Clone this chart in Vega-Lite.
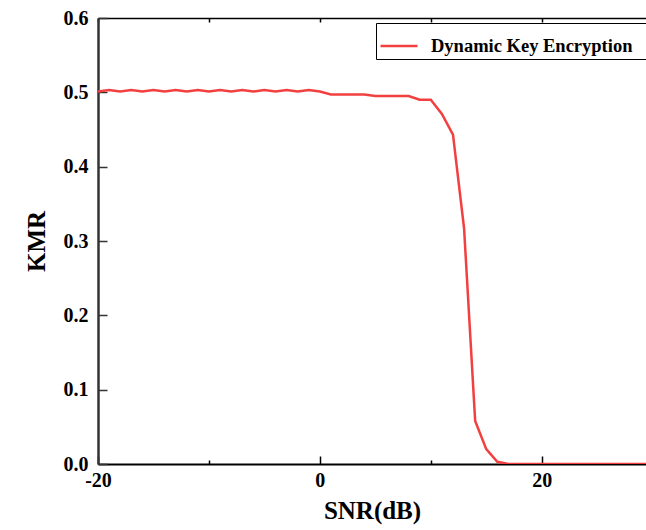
{
  "$schema": "https://vega.github.io/schema/vega-lite/v6.json",
  "width": 548,
  "height": 446,
  "autosize": {"type": "none"},
  "padding": {"left": 98, "top": 18, "right": 0, "bottom": 66},
  "background": "white",
  "config": {
    "view": {"stroke": null},
    "font": "Liberation Serif"
  },
  "data": {
    "values": [
      {"snr": -20, "kmr": 0.501, "series": "Dynamic Key Encryption"},
      {"snr": -19, "kmr": 0.503, "series": "Dynamic Key Encryption"},
      {"snr": -18, "kmr": 0.501, "series": "Dynamic Key Encryption"},
      {"snr": -17, "kmr": 0.503, "series": "Dynamic Key Encryption"},
      {"snr": -16, "kmr": 0.501, "series": "Dynamic Key Encryption"},
      {"snr": -15, "kmr": 0.503, "series": "Dynamic Key Encryption"},
      {"snr": -14, "kmr": 0.501, "series": "Dynamic Key Encryption"},
      {"snr": -13, "kmr": 0.503, "series": "Dynamic Key Encryption"},
      {"snr": -12, "kmr": 0.501, "series": "Dynamic Key Encryption"},
      {"snr": -11, "kmr": 0.503, "series": "Dynamic Key Encryption"},
      {"snr": -10, "kmr": 0.501, "series": "Dynamic Key Encryption"},
      {"snr": -9, "kmr": 0.503, "series": "Dynamic Key Encryption"},
      {"snr": -8, "kmr": 0.501, "series": "Dynamic Key Encryption"},
      {"snr": -7, "kmr": 0.503, "series": "Dynamic Key Encryption"},
      {"snr": -6, "kmr": 0.501, "series": "Dynamic Key Encryption"},
      {"snr": -5, "kmr": 0.503, "series": "Dynamic Key Encryption"},
      {"snr": -4, "kmr": 0.501, "series": "Dynamic Key Encryption"},
      {"snr": -3, "kmr": 0.503, "series": "Dynamic Key Encryption"},
      {"snr": -2, "kmr": 0.501, "series": "Dynamic Key Encryption"},
      {"snr": -1, "kmr": 0.503, "series": "Dynamic Key Encryption"},
      {"snr": 0, "kmr": 0.501, "series": "Dynamic Key Encryption"},
      {"snr": 1, "kmr": 0.497, "series": "Dynamic Key Encryption"},
      {"snr": 2, "kmr": 0.497, "series": "Dynamic Key Encryption"},
      {"snr": 3, "kmr": 0.497, "series": "Dynamic Key Encryption"},
      {"snr": 4, "kmr": 0.497, "series": "Dynamic Key Encryption"},
      {"snr": 5, "kmr": 0.495, "series": "Dynamic Key Encryption"},
      {"snr": 6, "kmr": 0.495, "series": "Dynamic Key Encryption"},
      {"snr": 7, "kmr": 0.495, "series": "Dynamic Key Encryption"},
      {"snr": 8, "kmr": 0.495, "series": "Dynamic Key Encryption"},
      {"snr": 9, "kmr": 0.49, "series": "Dynamic Key Encryption"},
      {"snr": 10, "kmr": 0.49, "series": "Dynamic Key Encryption"},
      {"snr": 11, "kmr": 0.471, "series": "Dynamic Key Encryption"},
      {"snr": 12, "kmr": 0.443, "series": "Dynamic Key Encryption"},
      {"snr": 13, "kmr": 0.317, "series": "Dynamic Key Encryption"},
      {"snr": 14, "kmr": 0.058, "series": "Dynamic Key Encryption"},
      {"snr": 15, "kmr": 0.02, "series": "Dynamic Key Encryption"},
      {"snr": 16, "kmr": 0.003, "series": "Dynamic Key Encryption"},
      {"snr": 17, "kmr": 0, "series": "Dynamic Key Encryption"},
      {"snr": 18, "kmr": 0, "series": "Dynamic Key Encryption"},
      {"snr": 19, "kmr": 0, "series": "Dynamic Key Encryption"},
      {"snr": 20, "kmr": 0, "series": "Dynamic Key Encryption"},
      {"snr": 21, "kmr": 0, "series": "Dynamic Key Encryption"},
      {"snr": 22, "kmr": 0, "series": "Dynamic Key Encryption"},
      {"snr": 23, "kmr": 0, "series": "Dynamic Key Encryption"},
      {"snr": 24, "kmr": 0, "series": "Dynamic Key Encryption"},
      {"snr": 25, "kmr": 0, "series": "Dynamic Key Encryption"},
      {"snr": 26, "kmr": 0, "series": "Dynamic Key Encryption"},
      {"snr": 27, "kmr": 0, "series": "Dynamic Key Encryption"},
      {"snr": 28, "kmr": 0, "series": "Dynamic Key Encryption"},
      {"snr": 29, "kmr": 0, "series": "Dynamic Key Encryption"},
      {"snr": 30, "kmr": 0, "series": "Dynamic Key Encryption"}
    ]
  },
  "layer": [
    {
      "mark": {"type": "line", "strokeWidth": 2.5, "clip": true},
      "encoding": {
        "x": {
          "field": "snr",
          "type": "quantitative",
          "scale": {"domain": [-20, 29.4], "nice": false, "zero": false},
          "axis": {
            "orient": "bottom",
            "title": "SNR(dB)",
            "values": [-20, -10, 0, 10, 20],
            "labelExpr": "datum.value % 20 == 0 ? '' + datum.value : ''",
            "grid": false,
            "domain": true,
            "domainColor": "#000000",
            "domainWidth": 2,
            "tickColor": "#000000",
            "tickWidth": 1.5,
            "tickSize": {"condition": {"test": "datum.value % 20 == 0", "value": -8}, "value": -4},
            "labelFont": "Liberation Serif",
            "labelFontWeight": "bold",
            "labelFontSize": 20,
            "labelColor": "#000000",
            "labelPadding": 14,
            "labelFlush": false,
            "titleFont": "Liberation Serif",
            "titleFontWeight": "bold",
            "titleFontSize": 25,
            "titleColor": "#000000",
            "titlePadding": 8
          }
        },
        "y": {
          "field": "kmr",
          "type": "quantitative",
          "scale": {"domain": [0, 0.6], "nice": false},
          "axis": {
            "orient": "left",
            "title": "KMR",
            "values": [0, 0.05, 0.1, 0.15, 0.2, 0.25, 0.3, 0.35, 0.4, 0.45, 0.5, 0.55, 0.6],
            "labelExpr": "abs(datum.value * 10 - round(datum.value * 10)) < 0.001 ? format(datum.value, '.1f') : ''",
            "grid": false,
            "domain": true,
            "domainColor": "#333333",
            "domainWidth": 2.5,
            "tickColor": "#333333",
            "tickWidth": 1.5,
            "tickSize": {"condition": {"test": "abs(datum.value * 10 - round(datum.value * 10)) < 0.001", "value": -9}, "value": -6},
            "labelFont": "Liberation Serif",
            "labelFontWeight": "bold",
            "labelFontSize": 20,
            "labelColor": "#000000",
            "labelPadding": 19,
            "labelFlush": false,
            "titleFont": "Liberation Serif",
            "titleFontWeight": "bold",
            "titleFontSize": 25,
            "titleColor": "#000000",
            "titlePadding": 14
          }
        },
        "color": {
          "field": "series",
          "type": "nominal",
          "scale": {"range": ["#f24040"]},
          "legend": {
            "title": "\u00a0",
            "titleOrient": "right",
            "titlePadding": 40,
            "titleFontSize": 17,
            "orient": "none",
            "legendX": 278,
            "legendY": 5,
            "symbolType": "stroke",
            "symbolSize": 1369,
            "symbolStrokeWidth": 2.5,
            "labelOffset": 12,
            "labelFont": "Liberation Serif",
            "labelFontWeight": "bold",
            "labelFontSize": 18.5,
            "labelColor": "#000000",
            "labelLimit": 0,
            "padding": 3,
            "strokeColor": "#000000",
            "fillColor": "#ffffff"
          }
        }
      }
    },
    {
      "mark": {"type": "line", "opacity": 0},
      "encoding": {
        "x": {
          "field": "snr",
          "type": "quantitative",
          "axis": {
            "orient": "top",
            "title": null,
            "values": [-20, -10, 0, 10, 20],
            "labels": false,
            "grid": false,
            "domainColor": "#000000",
            "domainWidth": 1.5,
            "tickColor": "#000000",
            "tickWidth": 1.5,
            "tickSize": -4
          }
        },
        "y": {"field": "kmr", "type": "quantitative"}
      }
    }
  ]
}
